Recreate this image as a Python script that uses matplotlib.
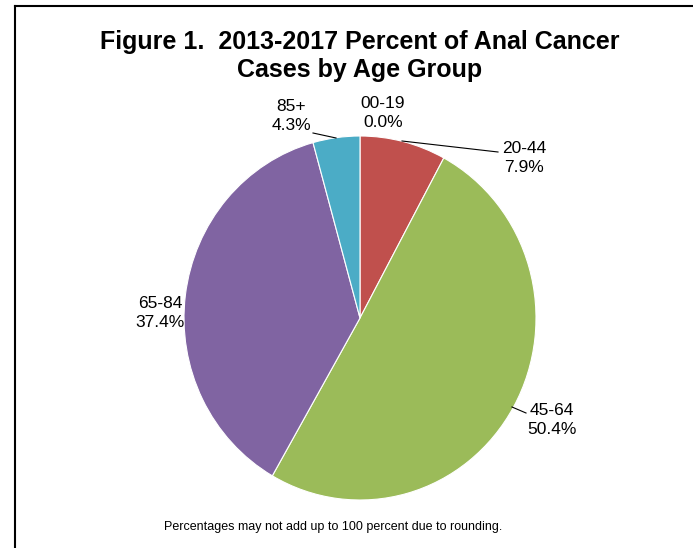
import matplotlib
matplotlib.use("Agg")
import matplotlib.pyplot as plt
from matplotlib.lines import Line2D

plt.rcParams['font.family'] = ['Liberation Sans', 'DejaVu Sans']

# donnees
age_groups = ['00-19', '20-44', '45-64', '65-84', '85+']
percents = [0.0, 7.9, 50.4, 37.4, 4.3]
colors = ['#4F81BD', '#C0504D', '#9BBB59', '#8064A2', '#4BACC6']

W, H = 693, 548
fig = plt.figure(figsize=(W / 100, H / 100), dpi=100)

# axe du camembert : centre (360, 318) px, rayon ~180 px
cx, cy, rx, ry = 360, 318, 176, 182
ax = fig.add_axes([(cx - rx) / W, (H - cy - ry) / H, 2 * rx / W, 2 * ry / H])
wedges, _ = ax.pie(percents, colors=colors, startangle=90, counterclock=False,
                   wedgeprops=dict(edgecolor='white', linewidth=0.8))
ax.set_aspect('auto')
ax.set_xlim(-1, 1)
ax.set_ylim(-1, 1)

# positions des etiquettes (pixels)
label_pos = {
    '00-19': (383, 113),
    '20-44': (524, 158),
    '45-64': (552, 420),
    '65-84': (160, 313),
    '85+': (291, 116),
}

def to_fig(px, py):
    return px / W, 1 - py / H

for name, pct in zip(age_groups, percents):
    tx, ty = label_pos[name]
    fig.text(*to_fig(tx, ty), f"{name}\n{pct:.1f}%", ha='center', va='center',
             fontsize=12.5, linespacing=1.3, color='black')

# traits de rappel
leaders = [
    [(402, 141), (498, 152)],
    [(512, 407), (526, 413)],
    [(313, 133), (336, 138)],
]
for seg in leaders:
    xs = [p[0] / W for p in seg]
    ys = [1 - p[1] / H for p in seg]
    fig.add_artist(Line2D(xs, ys, color='black', linewidth=0.8))

# titre
fig.text(*to_fig(360, 56), "Figure 1.  2013-2017 Percent of Anal Cancer\nCases by Age Group",
         ha='center', va='center', fontsize=18, fontweight='bold', linespacing=1.2)

# note
fig.text(*to_fig(333, 527), "Percentages may not add up to 100 percent due to rounding.",
         ha='center', va='center', fontsize=9)

# cadre
fig.add_artist(Line2D([15 / W, 15 / W], [0, 1 - 6 / H], color='black', linewidth=1.5))
fig.add_artist(Line2D([15 / W, 1], [1 - 6 / H, 1 - 6 / H], color='black', linewidth=1.5))

fig.savefig('out.png', dpi=100)
